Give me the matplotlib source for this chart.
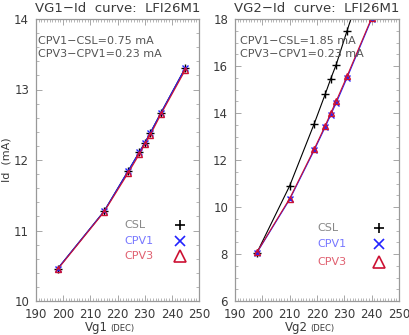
import matplotlib
matplotlib.use("Agg")
import matplotlib.pyplot as plt
from matplotlib.ticker import MultipleLocator

# VG1 sweep (left panel)
vg1 = [198, 215, 224, 228, 230, 232, 236, 245]
vg1_csl = [10.46, 11.27, 11.85, 12.11, 12.24, 12.38, 12.67, 13.31]
vg1_cpv1 = [10.46, 11.27, 11.85, 12.11, 12.24, 12.38, 12.67, 13.31]
vg1_cpv3 = [10.45, 11.26, 11.82, 12.08, 12.22, 12.35, 12.65, 13.28]

# VG2 sweep (right panel)
vg2 = [198, 210, 219, 223, 225, 227, 231, 240]
vg2_csl = [8.05, 10.90, 13.55, 14.80, 15.45, 16.05, 17.50, 20.7]
vg2_cpv1 = [8.05, 10.32, 12.42, 13.40, 13.92, 14.42, 15.50, 18.00]
vg2_cpv3 = [8.07, 10.36, 12.47, 13.46, 13.99, 14.50, 15.57, 18.05]

notes1 = ["CPV1\u2212CSL=0.75 mA", "CPV3\u2212CPV1=0.23 mA"]
notes2 = ["CPV1\u2212CSL=1.85 mA", "CPV3\u2212CPV1=0.23 mA"]

fig = plt.figure(figsize=(4.09, 3.35), dpi=100)
W, H = 409.0, 335.0

def make_axes(x0, x1, y0, y1):
    return fig.add_axes([x0 / W, 1 - y1 / H, (x1 - x0) / W, (y1 - y0) / H])

ax1 = make_axes(36, 199, 19, 301)
ax2 = make_axes(235, 399, 19, 301)

frame = "#999999"
txt = "#3a3a3a"

def style_axes(ax, ymin, ymax, ymajor, yminor):
    ax.set_xlim(190, 250)
    ax.set_ylim(ymin, ymax)
    ax.xaxis.set_major_locator(MultipleLocator(10))
    ax.xaxis.set_minor_locator(MultipleLocator(1))
    ax.yaxis.set_major_locator(MultipleLocator(ymajor))
    ax.yaxis.set_minor_locator(MultipleLocator(yminor))
    ax.tick_params(which="both", direction="in", top=True, right=True,
                   color=frame, labelcolor=txt, labelsize=8.5)
    ax.tick_params(which="major", length=4.5, width=0.6, pad=5)
    ax.tick_params(which="minor", length=2.2, width=0.5)
    for s in ax.spines.values():
        s.set_color(frame)
        s.set_linewidth(0.9)

def draw(ax, x, csl, cpv1, cpv3):
    ax.plot(x, csl, color="black", lw=0.8, marker="+", ms=6, mew=1.0)
    ax.plot(x, cpv1, color="#2222ff", lw=0.8, marker="x", ms=5, mew=1.0)
    ax.plot(x, cpv3, color="#cc1133", lw=0.8, marker="^", ms=5, mew=1.0,
            mfc="none", mec="#cc1133")

draw(ax1, vg1, vg1_csl, vg1_cpv1, vg1_cpv3)
draw(ax2, vg2, vg2_csl, vg2_cpv1, vg2_cpv3)
style_axes(ax1, 10, 14, 1, 0.2)
style_axes(ax2, 6, 18, 2, 0.5)

# notes
for ax, notes, xoff in [(ax1, notes1, 38), (ax2, notes2, 240)]:
    for i, t in enumerate(notes):
        fig.text(xoff / W, 1 - (41 + 13 * i) / H, t, fontsize=8, color="#555555",
                 va="center", ha="left")

# legends drawn by hand like IDL
def legend(tx, mx, ys):
    labels = [("CSL", "#888888", "+", "black"),
              ("CPV1", "#7777ff", "x", "#2222ff"),
              ("CPV3", "#e06070", "^", "#cc1133")]
    for (lab, tc, mk, mc), y in zip(labels, ys):
        fig.text(tx / W, 1 - y / H, lab, fontsize=8, color=tc, va="center", ha="left")
        if mk == "^":
            fig.lines.append(plt.Line2D([mx / W], [1 - y / H], marker=mk, ms=8, mew=1.2,
                                        mfc="none", mec=mc, transform=fig.transFigure))
        else:
            fig.lines.append(plt.Line2D([mx / W], [1 - y / H], marker=mk, ms=7, mew=1.2,
                                        color=mc, transform=fig.transFigure))

legend(124, 180, [225, 241, 256])
legend(317, 379, [228, 244, 262])

fig.text(118 / W, 1 - 9 / H, "VG1\u2212Id  curve:  LFI26M1", fontsize=9.5, color=txt,
         ha="center", va="center")
fig.text(317 / W, 1 - 9 / H, "VG2\u2212Id  curve:  LFI26M1", fontsize=9.5, color=txt,
         ha="center", va="center")

fig.text(7 / W, 1 - 160 / H, "Id  (mA)", fontsize=8, color=txt, rotation=90,
         ha="center", va="center")
fig.text(108 / W, 1 - 328 / H, "Vg1", fontsize=8.5, color=txt, ha="right", va="center")
fig.text(110 / W, 1 - 328 / H, "(DEC)", fontsize=6, color=txt, ha="left", va="center")
fig.text(308 / W, 1 - 328 / H, "Vg2", fontsize=8.5, color=txt, ha="right", va="center")
fig.text(310 / W, 1 - 328 / H, "(DEC)", fontsize=6, color=txt, ha="left", va="center")

fig.savefig("out.png", dpi=100)
